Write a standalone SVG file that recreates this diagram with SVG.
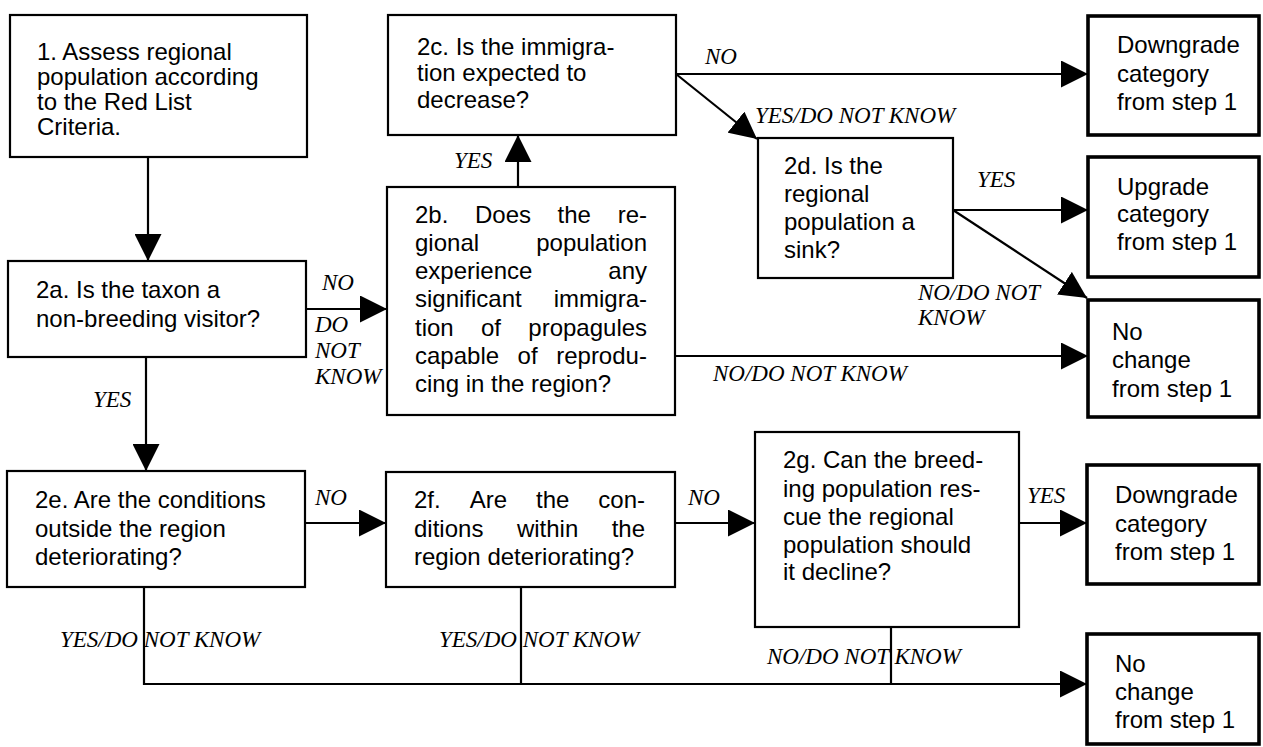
<svg xmlns="http://www.w3.org/2000/svg" width="1263" height="747" viewBox="0 0 1263 747">
<style>
.box{fill:#fff;stroke:#000;stroke-width:2.2}
.out{fill:#fff;stroke:#000;stroke-width:3.6}
.t{font-family:"Liberation Sans",Arial,sans-serif;font-size:24px;fill:#000}
.l{font-family:"Liberation Serif","Times New Roman",serif;font-style:italic;font-size:23px;fill:#000}
.c{fill:none;stroke:#000;stroke-width:2.2}
</style>
<defs>
<marker id="ah" markerUnits="userSpaceOnUse" markerWidth="27" markerHeight="27" refX="26" refY="13" orient="auto" viewBox="0 0 26 26">
<path d="M0,0 L26,13 L0,26 Z" fill="#000"/>
</marker>
</defs>
<rect width="1263" height="747" fill="#fff"/>

<g id="connectors">
<line class="c" x1="148" y1="157" x2="148" y2="261" marker-end="url(#ah)"/>
<line class="c" x1="306" y1="309" x2="387" y2="309" marker-end="url(#ah)"/>
<line class="c" x1="146" y1="357" x2="146" y2="471" marker-end="url(#ah)"/>
<line class="c" x1="518" y1="187" x2="518" y2="135" marker-end="url(#ah)"/>
<line class="c" x1="676" y1="74" x2="1088" y2="74" marker-end="url(#ah)"/>
<line class="c" x1="676" y1="74" x2="757" y2="139" marker-end="url(#ah)"/>
<line class="c" x1="953" y1="210" x2="1088" y2="210" marker-end="url(#ah)"/>
<line class="c" x1="953" y1="210" x2="1087" y2="298" marker-end="url(#ah)"/>
<line class="c" x1="675" y1="356" x2="1088" y2="356" marker-end="url(#ah)"/>
<line class="c" x1="305" y1="523" x2="386" y2="523" marker-end="url(#ah)"/>
<line class="c" x1="675" y1="523" x2="755" y2="523" marker-end="url(#ah)"/>
<line class="c" x1="1019" y1="523" x2="1087" y2="523" marker-end="url(#ah)"/>
<polyline class="c" points="144,587 144,684 1087,684" marker-end="url(#ah)"/>
<line class="c" x1="521" y1="587" x2="521" y2="684"/>
<line class="c" x1="891" y1="627" x2="891" y2="684"/>

<text class="l" x="705" y="64">NO</text>
<text class="l" x="755" y="123">YES/DO NOT KNOW</text>
<text class="l" x="454" y="168">YES</text>
<text class="l" x="977" y="187">YES</text>
<text class="l" x="918" y="300">NO/DO NOT</text>
<text class="l" x="918" y="325">KNOW</text>
<text class="l" x="713" y="381">NO/DO NOT KNOW</text>
<text class="l" x="322" y="290">NO</text>
<text class="l" x="315" y="332">DO</text>
<text class="l" x="315" y="358">NOT</text>
<text class="l" x="315" y="384">KNOW</text>
<text class="l" x="93" y="407">YES</text>
<text class="l" x="315" y="505">NO</text>
<text class="l" x="688" y="505">NO</text>
<text class="l" x="1027" y="503">YES</text>
<text class="l" x="60" y="647">YES/DO NOT KNOW</text>
<text class="l" x="439" y="647">YES/DO NOT KNOW</text>
<text class="l" x="767" y="664">NO/DO NOT KNOW</text>
</g>

<g id="step1">
<rect class="box" x="10" y="15" width="297" height="142"/>
<text class="t"><tspan x="37" y="60">1. Assess regional</tspan><tspan x="37" y="85">population according</tspan><tspan x="37" y="110">to the Red List</tspan><tspan x="37" y="135">Criteria.</tspan></text>
</g>

<g id="step2a">
<rect class="box" x="8" y="261" width="298" height="96"/>
<text class="t"><tspan x="36" y="298">2a. Is the taxon a</tspan><tspan x="36" y="327">non-breeding visitor?</tspan></text>
</g>

<g id="step2b">
<rect class="box" x="387" y="187" width="288" height="228"/>
<text class="t">
<tspan x="415" y="223">2b.</tspan><tspan x="475" y="223">Does</tspan><tspan x="557.6" y="223">the</tspan><tspan x="617.7" y="223">re-</tspan>
<tspan x="415" y="251">gional</tspan>
<tspan x="415" y="279">experience</tspan>
<tspan x="415" y="307">significant</tspan>
<tspan x="415" y="336">tion</tspan><tspan x="481" y="336">of</tspan><tspan x="528.3" y="336">propagules</tspan>
<tspan x="415" y="364">capable</tspan><tspan x="517.6" y="364">of</tspan><tspan x="556.2" y="364">reprodu-</tspan>
<tspan x="415" y="392">cing in the region?</tspan>
</text>
<text class="t" text-anchor="end"><tspan x="647" y="251">population</tspan><tspan x="647" y="279">any</tspan><tspan x="647" y="307">immigra-</tspan></text>
</g>

<g id="step2c">
<rect class="box" x="388" y="15" width="288" height="120"/>
<text class="t"><tspan x="417" y="55">2c. Is the immigra-</tspan><tspan x="417" y="81">tion expected to</tspan><tspan x="417" y="108">decrease?</tspan></text>
</g>

<g id="step2d">
<rect class="box" x="758" y="138" width="195" height="140"/>
<text class="t"><tspan x="784" y="174">2d. Is the</tspan><tspan x="784" y="202">regional</tspan><tspan x="784" y="230">population a</tspan><tspan x="784" y="258">sink?</tspan></text>
</g>

<g id="step2e">
<rect class="box" x="7" y="471" width="298" height="116"/>
<text class="t"><tspan x="35" y="508">2e. Are the conditions</tspan><tspan x="35" y="537">outside the region</tspan><tspan x="35" y="565">deteriorating?</tspan></text>
</g>

<g id="step2f">
<rect class="box" x="386" y="472" width="289" height="115"/>
<text class="t">
<tspan x="414" y="508">2f.</tspan><tspan x="469.7" y="508">Are</tspan><tspan x="536" y="508">the</tspan>
<tspan x="414" y="537">ditions</tspan><tspan x="516.9" y="537">within</tspan>
<tspan x="414" y="565">region deteriorating?</tspan>
</text>
<text class="t" text-anchor="end"><tspan x="645" y="508">con-</tspan><tspan x="645" y="537">the</tspan></text>
</g>

<g id="step2g">
<rect class="box" x="755" y="432" width="264" height="195"/>
<text class="t"><tspan x="783" y="468">2g. Can the breed-</tspan><tspan x="783" y="497">ing population res-</tspan><tspan x="783" y="525">cue the regional</tspan><tspan x="783" y="553">population should</tspan><tspan x="783" y="580">it decline?</tspan></text>
</g>

<g id="downgrade1">
<rect class="out" x="1088" y="16" width="171" height="119"/>
<text class="t"><tspan x="1117" y="53">Downgrade</tspan><tspan x="1117" y="82">category</tspan><tspan x="1117" y="110">from step 1</tspan></text>
</g>

<g id="upgrade">
<rect class="out" x="1088" y="157" width="171" height="120"/>
<text class="t"><tspan x="1117" y="195">Upgrade</tspan><tspan x="1117" y="222">category</tspan><tspan x="1117" y="250">from step 1</tspan></text>
</g>

<g id="nochange1">
<rect class="out" x="1088" y="300" width="171" height="117"/>
<text class="t"><tspan x="1112" y="340">No</tspan><tspan x="1112" y="368">change</tspan><tspan x="1112" y="397">from step 1</tspan></text>
</g>

<g id="downgrade2">
<rect class="out" x="1087" y="465" width="172" height="119"/>
<text class="t"><tspan x="1115" y="503">Downgrade</tspan><tspan x="1115" y="532">category</tspan><tspan x="1115" y="560">from step 1</tspan></text>
</g>

<g id="nochange2">
<rect class="out" x="1087" y="634" width="172" height="110"/>
<text class="t"><tspan x="1115" y="672">No</tspan><tspan x="1115" y="700">change</tspan><tspan x="1115" y="728">from step 1</tspan></text>
</g>
</svg>
